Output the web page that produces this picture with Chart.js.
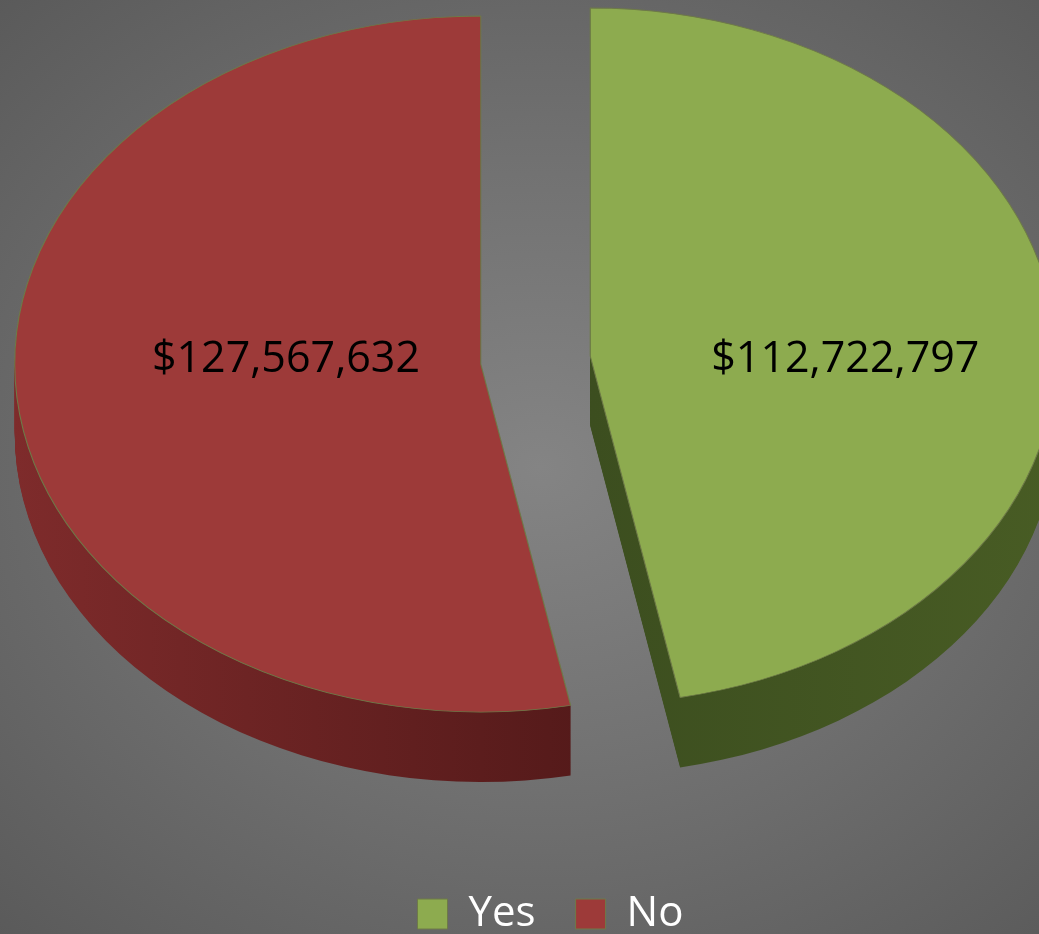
<!DOCTYPE html>
<html>
<head>
<meta charset="utf-8">
<script src="https://cdn.jsdelivr.net/npm/chart.js@4/dist/chart.umd.min.js"></script>
<style>
	html, body {
		margin: 0;
		padding: 0;
		width: 1039px;
		height: 934px;
		overflow: hidden;
		background: radial-gradient(ellipse 75% 70% at 52% 50%, #848484 0%, #727272 45%, #5a5a5a 100%);
	}
	#wrap { position: relative; width: 1039px; height: 934px; }
</style>
</head>
<body>
<div id="wrap"><canvas id="pieChart"></canvas></div>
<script>
const categories = ['Yes', 'No'];
const amounts = [112722797, 127567632];
const sliceColors = ['#8dab4f', '#9d3a39'];

// fake 3d look
const PIE_RX = 466, PIE_RY = 348, DEPTH = 70, EXPLODE = 55;
const SHIFT_X = -15, TOP_GAP = 12, LABEL_DY = 0;
const LABEL_R = [0.55, 0.42];
const SIDE = [['#30401a', '#485c24'], ['#7e2b2b', '#3a0f0f']];

function pieGeom(chart, arc) {
	const area = chart.chartArea;
	const mid = (arc.startAngle + arc.endAngle) / 2;
	const baseY = area.top + TOP_GAP + PIE_RY;
	return {
		cx: (area.left + area.right) / 2 + SHIFT_X + Math.cos(mid) * EXPLODE,
		cy: baseY + Math.sin(mid) * EXPLODE * PIE_RY / PIE_RX,
		baseY,
		sx: PIE_RX / arc.outerRadius,
		sy: PIE_RY / arc.outerRadius,
		mid
	};
}

function drawArcAt(ctx, arc, g, dy, opts) {
	ctx.save();
	ctx.translate(g.cx, g.cy + dy);
	ctx.scale(g.sx, g.sy);
	ctx.translate(-arc.x, -arc.y);
	const saved = arc.options;
	if (opts) arc.options = Object.assign({}, saved, opts);
	arc.draw(ctx);
	arc.options = saved;
	ctx.restore();
}

const pie3d = {
	id: 'pie3d',
	beforeDatasetsDraw(chart) {
		const ctx = chart.ctx;
		const arcs = chart.getDatasetMeta(0).data;
		// sides first
		arcs.forEach((arc, i) => {
			const g = pieGeom(chart, arc);
			const grad = ctx.createLinearGradient(arc.x - arc.outerRadius, 0, arc.x + arc.outerRadius, 0);
			grad.addColorStop(0, SIDE[i][0]);
			grad.addColorStop(1, SIDE[i][1]);
			for (let d = DEPTH; d >= 1; d--) {
				drawArcAt(ctx, arc, g, d, { backgroundColor: grad, borderWidth: 0 });
			}
		});
		// top faces
		arcs.forEach(arc => {
			drawArcAt(ctx, arc, pieGeom(chart, arc), 0);
		});
		// value labels
		ctx.save();
		ctx.font = '43px "Open Sans"';
		ctx.fillStyle = '#000';
		ctx.textAlign = 'center';
		ctx.textBaseline = 'middle';
		arcs.forEach((arc, i) => {
			const g = pieGeom(chart, arc);
			const x = g.cx + Math.cos(g.mid) * LABEL_R[i] * PIE_RX;
			const y = g.baseY + LABEL_DY;
			ctx.fillText('$' + amounts[i].toLocaleString('en-US'), x, y);
		});
		ctx.restore();
		return false;
	}
};

const chartEle = document.getElementById('pieChart');
const pieChart = new Chart(chartEle, {
	type: 'pie',
	data: {
		labels: categories,
		datasets: [{
			data: amounts,
			backgroundColor: sliceColors,
			borderColor: '#6e7a48',
			borderWidth: 1,
			hoverOffset: 0
		}]
	},
	options: {
		responsive: true,
		maintainAspectRatio: false,
		animation: false,
		events: [],
		layout: { padding: { left: 62, bottom: -11 } },
		plugins: {
			legend: {
				position: 'bottom',
				labels: {
					color: '#ffffff',
					boxWidth: 30,
					boxHeight: 30,
					padding: 40,
					font: { family: '"Open Sans"', size: 42 }
				}
			},
			tooltip: { enabled: false }
		}
	},
	plugins: [pie3d]
});
</script>
</body>
</html>
